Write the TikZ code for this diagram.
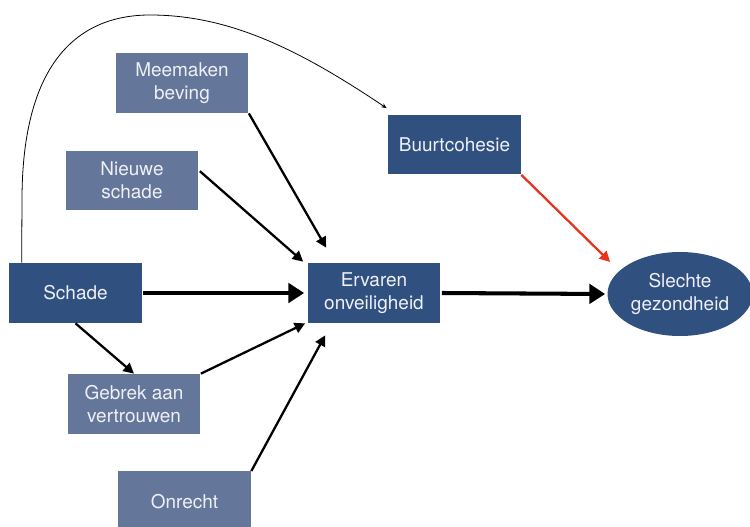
\documentclass[tikz,border=0pt]{standalone}
\usepackage{fontspec}
\setmainfont{TeX Gyre Heros}
\usetikzlibrary{shapes.geometric,arrows.meta,calc}
\definecolor{darkbox}{HTML}{30507F}
\definecolor{lightbox}{HTML}{65769B}
\definecolor{boxtext}{HTML}{EEF0F5}
\definecolor{redarrow}{HTML}{E8341E}
\begin{document}
\begin{tikzpicture}[x=0.02cm,y=-0.02cm,
  box/.style={rectangle,minimum width=2.66cm,minimum height=1.2cm,inner sep=0pt,
    text=boxtext,align=center,font=\fontsize{10.8}{13}\selectfont},
  darkb/.style={box,fill=darkbox},
  lightb/.style={box,fill=lightbox},
  thickarr/.style={line width=2.3pt,-{Triangle[length=9pt,width=11pt]}},
  thinarr/.style={line width=1.3pt,-{Triangle[length=6pt,width=6pt]}},
  redarr/.style={line width=1.3pt,draw=redarrow,-{Triangle[length=6pt,width=6pt]}},
  curvearr/.style={line width=0.45pt,-{Stealth[length=3pt,width=2.5pt]}}]
\useasboundingbox (0,0) rectangle (750,527);
\fill[white] (0,0) rectangle (750,527);

\node[lightb] (meem) at (182,83) {Meemaken\\beving};
\node[lightb] (nieuw) at (132,180.5) {Nieuwe\\schade};
\node[darkb] (schade) at (75.5,293) {Schade};
\node[darkb] (erv) at (374,293) {Ervaren\\onveiligheid};
\node[darkb] (buurt) at (454.5,144.5) {Buurtcohesie};
\node[ellipse,fill=darkbox,minimum width=2.9cm,minimum height=1.68cm,inner sep=0pt,
  text=boxtext,align=center,font=\fontsize{10.8}{13}\selectfont] (slecht) at (680,294) {Slechte\\gezondheid};
\node[lightb] (gebrek) at (134,404) {Gebrek aan\\vertrouwen};
\node[lightb,anchor=north] (onrecht) at (184.5,471) {Onrecht};

\coordinate (cstart) at ($(schade.north west)+(13,0)$);
\coordinate (cend) at ($(buurt.north west)+(-1,-6)$);

\draw[thinarr] (meem.south east) -- ($(erv.north west)+(19,-15)$);
\draw[thinarr] ($(nieuw.north east)+(1,21)$) -- ($(erv.north west)+(-4,-1)$);
\draw[thickarr] ($(schade.east)+(1,0)$) -- ($(erv.west)+(-3,0)$);
\draw[thinarr] (schade.south) -- (gebrek.north);
\draw[thinarr] (gebrek.north east) -- ($(erv.south west)+(-2,0)$);
\draw[thinarr] (onrecht.north east) -- ($(erv.south west)+(18,12)$);
\draw[thickarr] ($(erv.east)+(1,0)$) -- ($(slecht.west)+(-2,0)$);
\draw[redarr] (buurt.south east) -- ($(slecht.west)+(3,-32)$);
\draw[curvearr] (cstart) -- (22,200) .. controls (22,60) and (80,15) .. (150,15)
  .. controls (230,15) and (300,50) .. (cend);
\end{tikzpicture}
\end{document}
